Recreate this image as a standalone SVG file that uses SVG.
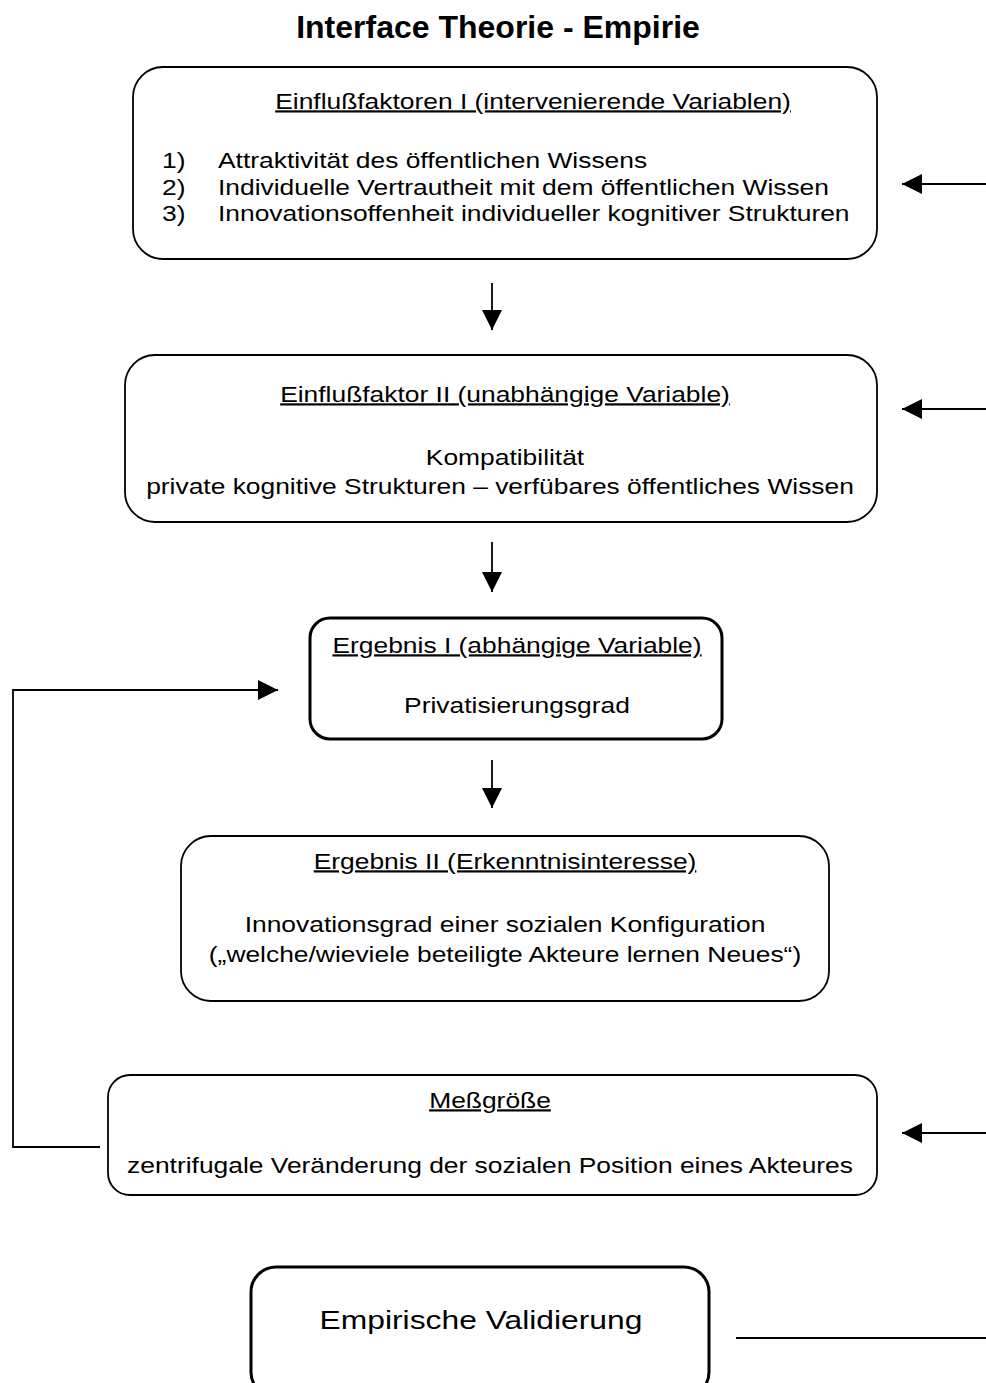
<svg xmlns="http://www.w3.org/2000/svg" width="986" height="1383" viewBox="0 0 986 1383">
  <defs>
    <style>
      text { font-family: "Liberation Sans", Arial, sans-serif; fill: #000; }
      .title { font-size: 32px; font-weight: bold; text-anchor: middle; }
      .t { font-size: 22px; }
      .c { text-anchor: middle; }
      .u { text-decoration: underline; }
      .big { font-size: 26.5px; text-anchor: middle; }
      .box { fill: #fff; stroke: #000; stroke-width: 1.8; }
      .thick { stroke-width: 3; }
      .conn { fill: none; stroke: #000; stroke-width: 1.8; }
    </style>
    <marker id="headL" viewBox="0 0 10 10" refX="10" refY="5" markerWidth="22" markerHeight="20" markerUnits="userSpaceOnUse" orient="auto">
      <path d="M0,0 L10,5 L0,10 Z" fill="#000"/>
    </marker>
  </defs>

  <rect width="986" height="1383" fill="#fff"/>

  <text class="title" x="498" y="38">Interface Theorie - Empirie</text>

  <!-- body text is set in a wide face: 22px glyphs stretched 1.2x horizontally -->
  <g id="einflussfaktoren-1">
    <rect class="box" x="133" y="67" width="744" height="192" rx="30"/>
    <text class="t c u" transform="translate(533,108.5) scale(1.2,1)">Einflußfaktoren I (intervenierende Variablen)</text>
    <text class="t" transform="translate(162,168) scale(1.2,1)">1)</text>
    <text class="t" transform="translate(218,168) scale(1.2,1)">Attraktivität des öffentlichen Wissens</text>
    <text class="t" transform="translate(162,194.5) scale(1.2,1)">2)</text>
    <text class="t" transform="translate(218,194.5) scale(1.2,1)">Individuelle Vertrautheit mit dem öffentlichen Wissen</text>
    <text class="t" transform="translate(162,221) scale(1.2,1)">3)</text>
    <text class="t" transform="translate(218,221) scale(1.2,1)">Innovationsoffenheit individueller kognitiver Strukturen</text>
  </g>

  <g id="einflussfaktor-2">
    <rect class="box" x="125" y="355" width="752" height="167" rx="30"/>
    <text class="t c u" transform="translate(505,401.5) scale(1.2,1)">Einflußfaktor II (unabhängige Variable)</text>
    <text class="t c" transform="translate(505,464.5) scale(1.2,1)">Kompatibilität</text>
    <text class="t c" transform="translate(500,493.5) scale(1.2,1)">private kognitive Strukturen – verfübares öffentliches Wissen</text>
  </g>

  <g id="ergebnis-1">
    <rect class="box thick" x="310" y="618" width="412" height="121" rx="20"/>
    <text class="t c u" transform="translate(517,652.5) scale(1.2,1)">Ergebnis I (abhängige Variable)</text>
    <text class="t c" transform="translate(517,712.5) scale(1.2,1)">Privatisierungsgrad</text>
  </g>

  <g id="ergebnis-2">
    <rect class="box" x="181" y="836" width="648" height="165" rx="30"/>
    <text class="t c u" transform="translate(505,868.5) scale(1.2,1)">Ergebnis II (Erkenntnisinteresse)</text>
    <text class="t c" transform="translate(505,931.5) scale(1.2,1)">Innovationsgrad einer sozialen Konfiguration</text>
    <text class="t c" transform="translate(505,961.5) scale(1.2,1)">(„welche/wieviele beteiligte Akteure lernen Neues“)</text>
  </g>

  <g id="messgroesse">
    <rect class="box" x="108" y="1075" width="769" height="120" rx="22"/>
    <text class="t c u" transform="translate(490,1107.5) scale(1.2,1)">Meßgröße</text>
    <text class="t c" transform="translate(490,1172.5) scale(1.2,1)">zentrifugale Veränderung der sozialen Position eines Akteures</text>
  </g>

  <g id="empirische-validierung">
    <rect class="box thick" x="251" y="1267" width="458" height="130" rx="25"/>
    <text class="big" transform="translate(481,1329) scale(1.2,1)">Empirische Validierung</text>
  </g>

  <g id="connectors">
    <line class="conn" x1="492" y1="283" x2="492" y2="330" marker-end="url(#headL)"/>
    <line class="conn" x1="492" y1="542" x2="492" y2="592" marker-end="url(#headL)"/>
    <line class="conn" x1="492" y1="760" x2="492" y2="808" marker-end="url(#headL)"/>
    <line class="conn" x1="986" y1="184" x2="902" y2="184" marker-end="url(#headL)"/>
    <line class="conn" x1="986" y1="409" x2="902" y2="409" marker-end="url(#headL)"/>
    <line class="conn" x1="986" y1="1133" x2="902" y2="1133" marker-end="url(#headL)"/>
    <polyline class="conn" points="100,1147 13,1147 13,690 278,690" marker-end="url(#headL)"/>
    <line class="conn" x1="736" y1="1338" x2="986" y2="1338"/>
  </g>
</svg>
